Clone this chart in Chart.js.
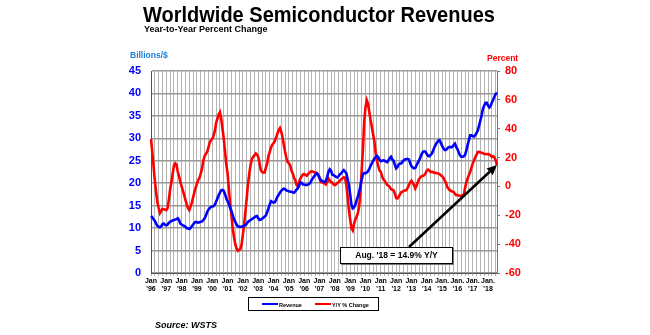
<!DOCTYPE html>
<html>
<head>
<meta charset="utf-8">
<script src="https://cdn.jsdelivr.net/npm/chart.js@4.4.0/dist/chart.umd.min.js"></script>
<style>
  html, body { margin: 0; padding: 0; background: #fff; }
  #wrap { position: relative; width: 650px; height: 335px; font-family: "Liberation Sans", Arial, sans-serif; overflow: hidden; }
  #wrap canvas { position: absolute; left: 0; top: 0; }
  .t { position: absolute; white-space: nowrap; font-weight: bold; line-height: 1; }
  #title { left: 143px; top: 3px; font-size: 20px; color: #000; transform: scaleY(1.1); transform-origin: 0 0; }
  #subtitle { left: 144px; top: 25px; font-size: 9px; color: #000; }
  #ylab { left: 130px; top: 51px; font-size: 8.5px; color: #1c7fd6; }
  #y1lab { left: 487px; top: 54px; font-size: 8.5px; color: #ff0000; }
  #source { left: 155px; top: 321px; font-size: 9px; font-style: italic; color: #000; }
  #legend { position: absolute; left: 248px; top: 297px; width: 131px; height: 14px; border: 1px solid #000; box-sizing: border-box; font-size: 5.5px; font-weight: bold; }
  #legend .sw { position: absolute; top: 5px; width: 16px; height: 2px; }
  #legend .lt { position: absolute; top: 3.5px; }
  #note { position: absolute; left: 340px; top: 247px; width: 113px; height: 17px; border: 1.5px solid #000; box-sizing: border-box; background: #fff; font-size: 8.5px; font-weight: bold; text-align: center; line-height: 14px; box-shadow: 1px 1px 0 #777; }
</style>
</head>
<body>
<div id="wrap">
  <canvas id="chart" width="650" height="335"></canvas>
  <div class="t" id="title">Worldwide Semiconductor Revenues</div>
  <div class="t" id="subtitle">Year-to-Year Percent Change</div>
  <div class="t" id="ylab">Billions/$</div>
  <div class="t" id="y1lab">Percent</div>
  <div id="legend">
    <div class="sw" style="left:13px;background:#0000ff"></div><div class="lt" style="left:30px">Revenue</div>
    <div class="sw" style="left:66px;background:#ff0000"></div><div class="lt" style="left:83px">Y/Y % Change</div>
  </div>
  <div id="note"></div>
  <div class="t" id="source">Source: WSTS</div>
</div>
<script>
"use strict";

// Year labels under each January tick; a trailing dot from '15 onwards
const yearLabels = ["'96", "'97", "'98", "'99", "'00", "'01", "'02", "'03", "'04", "'05", "'06",
  "'07", "'08", "'09", "'10", "'11", "'12", "'13", "'14", "'15", "'16", "'17", "'18"];
const dottedFrom = 19;

// Monthly sales, billions of dollars, Jan 1996 - Aug 2018 (one row per year)
const revenue = [
  12.7, 12.4, 12.0, 11.6, 11.0, 10.5, 10.3, 10.2, 10.4, 10.9, 11.0, 10.7,
  10.6, 10.8, 11.2, 11.4, 11.6, 11.7, 11.8, 11.9, 12.0, 12.2, 11.8, 11.0,
  10.8, 10.6, 10.5, 10.3, 10.0, 9.9, 9.8, 10.0, 10.4, 10.8, 11.2, 11.4,
  11.3, 11.2, 11.3, 11.4, 11.5, 11.8, 12.2, 12.8, 13.6, 14.1, 14.5, 14.7,
  14.8, 14.9, 15.2, 15.9, 16.6, 17.3, 17.9, 18.4, 18.5, 18.3, 17.5, 16.6,
  16.0, 15.3, 14.5, 13.8, 12.9, 12.0, 11.4, 10.8, 10.4, 10.3, 10.3, 10.3,
  10.4, 10.5, 10.7, 11.0, 11.4, 11.6, 11.8, 12.0, 12.2, 12.4, 12.6, 12.7,
  12.2, 11.8, 11.9, 12.1, 12.3, 12.6, 12.8, 13.6, 14.4, 15.3, 16.0, 15.8,
  15.7, 15.8, 16.3, 17.0, 17.4, 17.9, 18.3, 18.6, 18.8, 18.7, 18.4, 18.3,
  18.2, 18.1, 18.1, 18.0, 17.9, 18.2, 18.6, 18.9, 19.5, 20.2, 20.1, 19.7,
  19.7, 19.6, 19.6, 19.7, 19.9, 20.2, 20.8, 21.2, 21.6, 22.0, 22.2, 21.8,
  21.2, 20.7, 20.5, 20.4, 20.3, 20.6, 21.4, 22.5, 23.1, 22.8, 21.9, 21.8,
  21.6, 21.4, 21.3, 21.6, 22.0, 22.2, 22.6, 22.9, 22.6, 22.2, 20.9, 19.6,
  17.5, 15.2, 14.4, 14.6, 15.2, 16.2, 17.0, 18.0, 19.3, 20.8, 22.0, 22.3,
  22.2, 22.4, 22.7, 23.2, 23.9, 24.4, 25.0, 25.5, 25.8, 26.1, 25.8, 25.2,
  24.9, 25.0, 25.1, 25.0, 24.8, 24.7, 25.1, 25.6, 25.9, 25.3, 25.0, 24.1,
  23.3, 23.6, 24.2, 24.4, 24.4, 24.8, 25.1, 25.3, 25.4, 25.4, 25.3, 24.5,
  23.8, 23.5, 23.3, 23.4, 24.0, 24.6, 25.1, 25.8, 26.5, 27.0, 27.1, 27.0,
  26.5, 26.1, 26.0, 26.3, 26.6, 27.3, 28.0, 28.6, 29.1, 29.5, 29.6, 29.0,
  28.3, 27.8, 27.4, 27.4, 27.7, 28.0, 28.1, 28.0, 28.1, 28.5, 28.8, 28.1,
  27.6, 26.9, 26.2, 25.9, 25.9, 26.0, 26.3, 27.3, 28.5, 29.6, 30.7, 30.7,
  30.5, 30.4, 30.7, 31.2, 31.8, 32.9, 34.0, 35.2, 36.6, 37.3, 37.9, 37.9,
  37.3, 36.9, 37.2, 38.0, 38.6, 39.3, 39.9, 40.2
];

// Year-over-year change, percent, same months
const yoyChange = [
  33, 24, 14, 4, -4, -11, -15, -18.5, -17, -15.5, -16, -16,
  -16.4, -15, -9, -2, 3, 9, 14.5, 16, 15, 10, 7, 3,
  0, -3, -6, -9.5, -12.5, -15, -16.4, -14, -11, -7.5, -4, -0.8,
  2, 4.5, 6, 9, 12.5, 18, 21, 22.5, 24, 27, 30.5, 32,
  33, 35, 38.5, 44, 47, 50, 51.5, 47, 40, 33, 24, 15,
  9, -2, -12, -20, -29, -35, -40, -43, -44.6, -44, -43.5, -40,
  -33, -26, -17, -8, 2, 9, 15, 19, 20.5, 21.5, 22.8, 22,
  20.5, 16, 11.2, 10, 9.6, 9.8, 13, 16, 21, 24, 27, 29,
  30, 31.5, 34, 36.5, 39, 40.5, 38, 34.3, 29, 24, 20, 17,
  16, 14.7, 11, 9, 6, 4.3, 1, 0, 3, 5.5, 7, 8.3,
  8.5, 8, 7.4, 8.5, 9.5, 10.2, 10.5, 10.2, 9.8, 9.6, 9, 8.3,
  6, 3.1, 3, 2.5, 2, 1.3, 3, 5.5, 4, 3, 2.7, 1.5,
  0.9, 1.5, 2.5, 3, 4, 5, 5.5, 6.4, 6, 1, -7, -16,
  -23, -29, -30.5, -26, -23, -21, -18.5, -14, -5, 11, 26, 45,
  55, 59.6, 57, 51.6, 46, 41, 36, 31, 23, 18, 14, 11,
  10, 7, 5, 4, 2.5, 1, 0.5, -0.5, -1.9, -2.3, -2.6, -5,
  -8, -8.3, -7.1, -5.5, -4, -3.7, -3, -2.8, -2.6, -1, 0.9, 3,
  4, 2.5, 1, -1.4, 0.5, 3, 5, 6.5, 7.1, 7.4, 7.8, 9,
  11, 11.7, 11, 10, 10.2, 9.8, 9.4, 9.5, 9.2, 9, 8.5, 7.8,
  7, 6, 4.3, 2.5, -0.3, -1.5, -2.6, -3.2, -3.5, -3.8, -5, -6,
  -6, -6.3, -6.5, -6.5, -6.2, -6, -1, 3, 5.5, 8, 10, 13,
  16, 18, 20.4, 22, 23.9, 24, 23.5, 23.3, 23, 22.5, 22.5, 22.3,
  22.5, 22, 21.5, 20.4, 21, 20, 18, 14.9
];

// one category per month
const months = revenue.map((_, i) => i);
const FONT = "'Liberation Sans', Arial, sans-serif";

const lastIdx = yoyChange.length - 1;
document.getElementById("note").textContent = "Aug. " + yearLabels[yearLabels.length - 1] + " = " + yoyChange[lastIdx] + "% Y/Y";

// callout arrow from the note box to the latest Y/Y point
const arrowPlugin = {
  id: "calloutArrow",
  afterDatasetsDraw(chart) {
    const { ctx, scales } = chart;
    const tx = scales.x.getPixelForValue(lastIdx);
    const ty = scales.y1.getPixelForValue(yoyChange[lastIdx]);
    const sx = 409, sy = 247;
    const ang = Math.atan2(ty - sy, tx - sx);
    const head = 10, half = 4.5;
    const bx = tx - head * Math.cos(ang), by = ty - head * Math.sin(ang);
    ctx.save();
    ctx.strokeStyle = "#000";
    ctx.fillStyle = "#000";
    ctx.lineWidth = 2.5;
    ctx.beginPath();
    ctx.moveTo(sx, sy);
    ctx.lineTo(bx, by);
    ctx.stroke();
    ctx.beginPath();
    ctx.moveTo(tx, ty);
    ctx.lineTo(bx + half * Math.sin(ang), by - half * Math.cos(ang));
    ctx.lineTo(bx - half * Math.sin(ang), by + half * Math.cos(ang));
    ctx.closePath();
    ctx.fill();
    ctx.restore();
  }
};

new Chart(document.getElementById("chart"), {
  type: "line",
  data: {
    labels: months,
    datasets: [
      { label: "Revenue", data: revenue, yAxisID: "y", borderColor: "#0000ff", borderWidth: 2.6, pointRadius: 0, tension: 0 },
      { label: "Y/Y % Change", data: yoyChange, yAxisID: "y1", borderColor: "#ff0000", borderWidth: 2.6, pointRadius: 0, tension: 0 }
    ]
  },
  options: {
    responsive: false,
    animation: false,
    events: [],
    layout: { padding: { left: 121, right: 113, top: 71, bottom: 38 } },
    plugins: { legend: { display: false }, tooltip: { enabled: false } },
    scales: {
      x: {
        type: "category",
        offset: false,
        afterFit: (s) => { s.height = 24; },
        border: { color: "#555", width: 1 },
        grid: {
          color: (c) => (c.index % 3 === 0 ? "#b4b4b4" : "transparent"),
          lineWidth: 1,
          tickLength: 3
        },
        ticks: {
          autoSkip: false,
          maxRotation: 0,
          minRotation: 0,
          padding: 1,
          color: "#000",
          font: { family: FONT, size: 7, weight: "bold", lineHeight: 1.15 },
          callback: (v, i) => {
            if (i % 12 !== 0) return "";
            const y = i / 12;
            return [y >= dottedFrom ? "Jan." : "Jan", yearLabels[y]];
          }
        }
      },
      y: {
        position: "left",
        min: 0,
        max: 45,
        afterFit: (s) => { s.width = 30; },
        border: { color: "#555", width: 1 },
        grid: { color: "#999", lineWidth: 1.6, drawTicks: false },
        ticks: { stepSize: 5, padding: 10, color: "#0000ff", font: { family: FONT, size: 11, weight: "bold" } }
      },
      y1: {
        position: "right",
        min: -60,
        max: 80,
        afterFit: (s) => { s.width = 40; },
        border: { color: "#777", width: 1 },
        grid: { drawOnChartArea: false, color: "#777", tickLength: 3 },
        ticks: { stepSize: 20, padding: 5, color: "#ff0000", font: { family: FONT, size: 11, weight: "bold" } }
      }
    }
  },
  plugins: [arrowPlugin]
});
</script>
</body>
</html>
